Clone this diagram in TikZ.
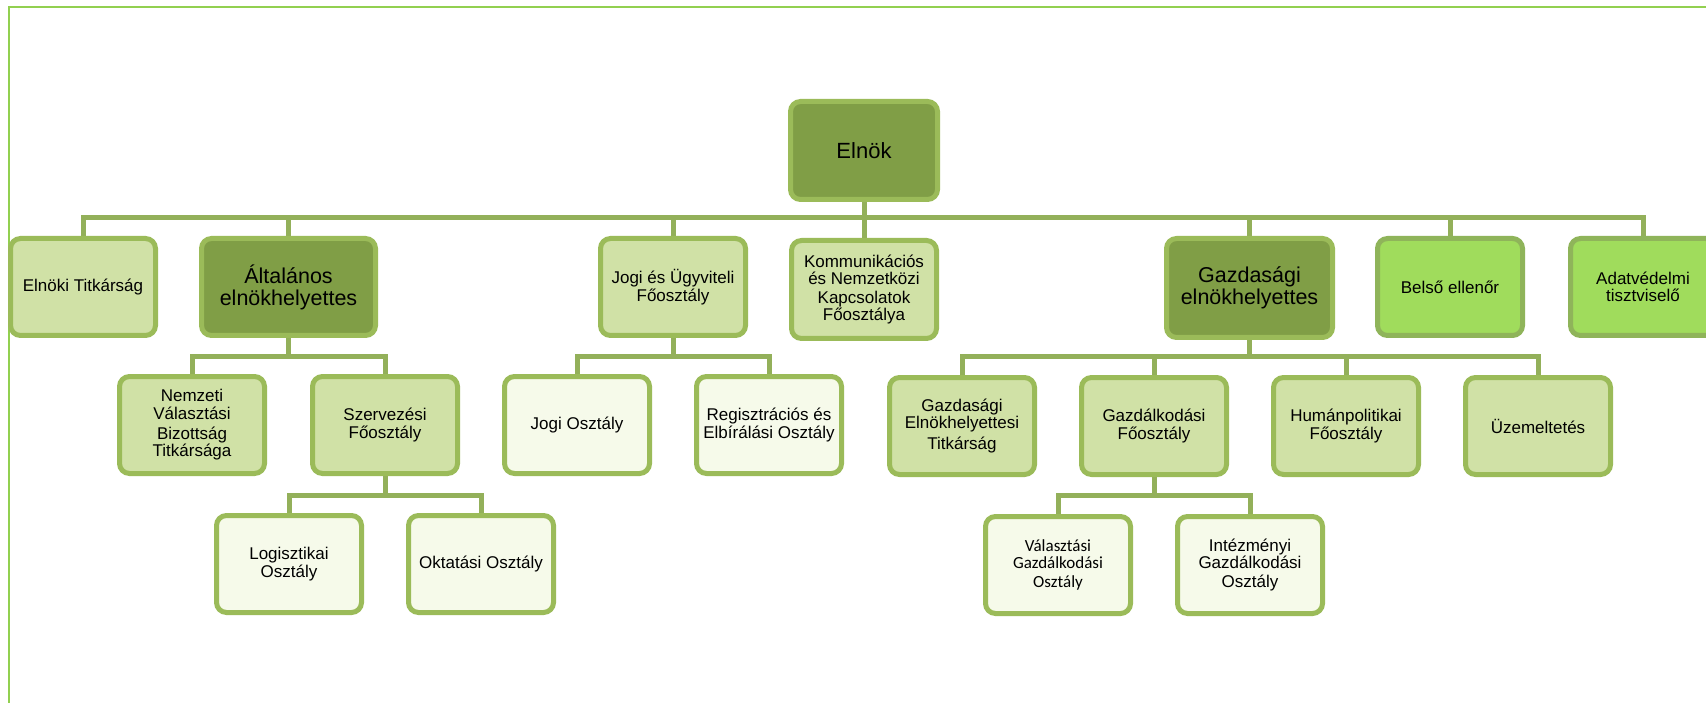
\documentclass[tikz,border=0pt]{standalone}
\usepackage{fontspec}
\setmainfont{Liberation Sans}
\newfontfamily\calib{Carlito}
\usetikzlibrary{backgrounds}
\definecolor{boxline}{HTML}{9BBB59}
\definecolor{darkfill}{HTML}{809E46}
\definecolor{lightfill}{HTML}{D0E1A6}
\definecolor{palefill}{HTML}{F6FAEA}
\definecolor{brightfill}{HTML}{A0DC5C}
\definecolor{brightline}{HTML}{8FB45A}
\definecolor{connline}{HTML}{93B05A}
\definecolor{framecol}{HTML}{92D050}
\tikzset{
  orgbox/.style={draw=boxline, line width=5pt, rounded corners=10pt,
    minimum width=145pt, minimum height=97pt, inner sep=2pt, align=center,
    text=black, font=\fontsize{17}{17.4}\selectfont},
  orgdark/.style={orgbox, fill=darkfill},
  orglight/.style={orgbox, fill=lightfill},
  orgpale/.style={orgbox, fill=palefill},
  orgbright/.style={orgbox, fill=brightfill, draw=brightline},
  bigtext/.style={font=\fontsize{21.5}{22}\selectfont},
  conn/.style={draw=connline, line width=5pt},
}
\begin{document}
\begin{tikzpicture}[x=1pt,y=-1pt]
\useasboundingbox (0,0) rectangle (1706,703);

% level 0
\node[orgdark, minimum width=147pt, minimum height=98pt, font=\fontsize{22}{24}\selectfont] (elnok) at (864,150.5) {Elnök};

% level 1
\node[orglight] (elnoki) at (83,287) {Elnöki Titkárság};
\node[orgdark, bigtext, minimum width=174pt] (altal) at (288.5,287) {Általános\\elnökhelyettes};
\node[orglight] (jogiu) at (673,287) {Jogi és Ügyviteli\\Főosztály};
\node[orglight, minimum height=98pt] (komm) at (864,289.5) {Kommunikációs\\és Nemzetközi\\[1pt]Kapcsolatok\\Főosztálya};
\node[orgdark, bigtext, minimum width=166pt, minimum height=99pt] (gazd) at (1249.5,288) {Gazdasági\\elnökhelyettes};
\node[orgbright] (belso) at (1450,287) {Belső ellenőr};
\node[orgbright] (adat) at (1643,287) {Adatvédelmi\\tisztviselő};

% level 2
\node[orglight] (nvb) at (192,425) {Nemzeti\\Választási\\[3pt]Bizottság\\Titkársága};
\node[orglight] (szerv) at (385,425) {Szervezési\\Főosztály};
\node[orgpale] (jogio) at (577,425) {Jogi Osztály};
\node[orgpale] (regisz) at (769,425) {Regisztrációs és\\Elbírálási Osztály};
\node[orglight] (gett) at (962,426) {Gazdasági\\Elnökhelyettesi\\[3pt]Titkárság};
\node[orglight] (gfo) at (1154,426) {Gazdálkodási\\Főosztály};
\node[orglight] (human) at (1346,426) {Humánpolitikai\\Főosztály};
\node[orglight] (uzem) at (1538,426) {Üzemeltetés};

% level 3
\node[orgpale] (logi) at (289,564) {Logisztikai\\Osztály};
\node[orgpale] (okt) at (481,564) {Oktatási Osztály};
\node[orgpale, font=\calib\fontsize{17}{17.4}\selectfont] (valg) at (1058,565) {Választási\\Gazdálkodási\\[2pt]Osztály};
\node[orgpale] (intg) at (1250,565) {Intézményi\\Gazdálkodási\\[2pt]Osztály};

% bus coordinates
\coordinate (b0) at (0,218);
\coordinate (b1) at (0,357);
\coordinate (b2) at (0,495);

\begin{pgfonlayer}{background}
\fill[white] (0,0) rectangle (1706,703);
\draw[framecol, line width=2pt] (9,703) -- (9,7) -- (1720,7);
\foreach \c in {elnoki,altal,jogiu,komm,gazd,belso,adat}
  \draw[conn] (elnok.south) -- (elnok.south |- b0) -| (\c.north);
\foreach \c in {nvb,szerv}
  \draw[conn] (altal.south) -- (altal.south |- b1) -| (\c.north);
\foreach \c in {jogio,regisz}
  \draw[conn] (jogiu.south) -- (jogiu.south |- b1) -| (\c.north);
\foreach \c in {gett,gfo,human,uzem}
  \draw[conn] (gazd.south) -- (gazd.south |- b1) -| (\c.north);
\foreach \c in {logi,okt}
  \draw[conn] (szerv.south) -- (szerv.south |- b2) -| (\c.north);
\foreach \c in {valg,intg}
  \draw[conn] (gfo.south) -- (gfo.south |- b2) -| (\c.north);
\end{pgfonlayer}
\end{tikzpicture}
\end{document}
